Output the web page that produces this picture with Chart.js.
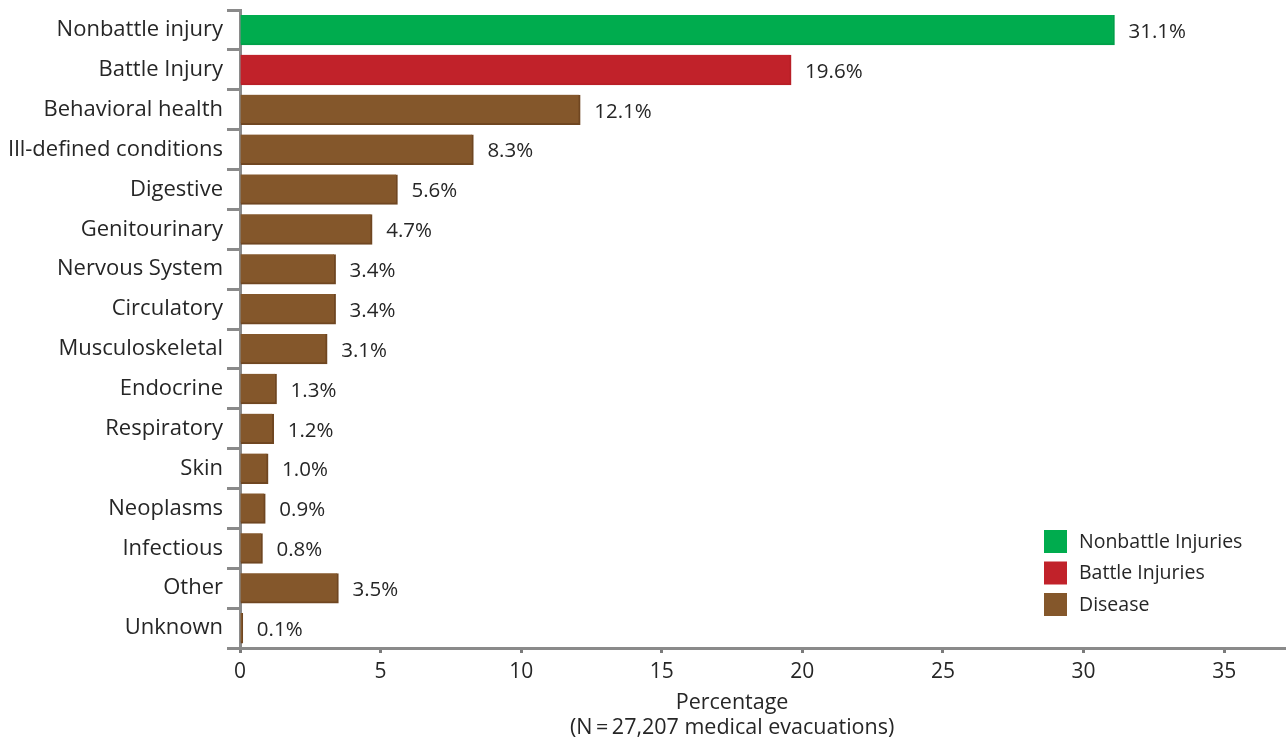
<!DOCTYPE html>
<html>
<head>
<meta charset="utf-8">
<title>Medical evacuations by cause</title>
<script src="https://cdn.jsdelivr.net/npm/chart.js@4.4.1/dist/chart.umd.min.js"></script>
<style>
  html, body { margin: 0; padding: 0; background: #ffffff; }
  #wrap { width: 1286px; height: 744px; position: relative; }
</style>
</head>
<body>
<div id="wrap"><canvas id="chart" width="1286" height="744"></canvas></div>
<script>
// Causes of medical evacuation, top to bottom
const categories = [
  'Nonbattle injury', 'Battle Injury', 'Behavioral health', 'Ill-defined conditions',
  'Digestive', 'Genitourinary', 'Nervous System', 'Circulatory', 'Musculoskeletal',
  'Endocrine', 'Respiratory', 'Skin', 'Neoplasms', 'Infectious', 'Other', 'Unknown'
];
// Share of all evacuations, percent
const percentages = [31.1, 19.6, 12.1, 8.3, 5.6, 4.7, 3.4, 3.4, 3.1, 1.3, 1.2, 1.0, 0.9, 0.8, 3.5, 0.1];
// Group each cause belongs to (index into groupNames)
const groupOfCategory = [0, 1, 2, 2, 2, 2, 2, 2, 2, 2, 2, 2, 2, 2, 2, 2];
const groupNames = ['Nonbattle Injuries', 'Battle Injuries', 'Disease'];
const groupFill = ['#00ac4e', '#c1222a', '#84572b'];
const groupEdge = ['#00a049', '#b81f27', '#6f4621'];
const xTicks = [0, 5, 10, 15, 20, 25, 30, 35];
const xTitleLines = ['Percentage', '(N\u2009=\u200927,207 medical evacuations)'];

const FONT = '"Open Sans", Roboto, "Liberation Sans", Arial, sans-serif';
const TEXT = '#262626';

const valueLabels = {
  id: 'valueLabels',
  afterDatasetsDraw(chart) {
    const ctx = chart.ctx;
    const meta = chart.getDatasetMeta(0);
    ctx.save();
    ctx.font = '20.5px ' + FONT;
    ctx.fillStyle = TEXT;
    ctx.textAlign = 'left';
    ctx.textBaseline = 'middle';
    meta.data.forEach((bar, i) => {
      ctx.fillText(percentages[i].toFixed(1) + '%', bar.x + 14, bar.y + 2);
    });
    ctx.restore();
  }
};

const axisTitleAndLegend = {
  id: 'axisTitleAndLegend',
  afterDraw(chart) {
    const ctx = chart.ctx;
    const xs = chart.scales.x;
    ctx.save();
    // x axis title, centred under the 0-35 tick range
    const cx = (xs.getPixelForValue(0) + xs.getPixelForValue(35)) / 2;
    ctx.font = '21.5px ' + FONT;
    ctx.fillStyle = TEXT;
    ctx.textAlign = 'center';
    ctx.textBaseline = 'middle';
    ctx.fillText(xTitleLines[0], cx, 703);
    ctx.fillText(xTitleLines[1], cx, 728);
    // legend
    ctx.font = '19.5px ' + FONT;
    ctx.textAlign = 'left';
    groupNames.forEach((name, g) => {
      const y = 541 + g * 31.5;
      ctx.fillStyle = groupFill[g];
      ctx.fillRect(1044, y - 11, 23, 23);
      ctx.fillStyle = TEXT;
      ctx.fillText(name, 1079, y + 1);
    });
    ctx.restore();
  }
};

new Chart(document.getElementById('chart'), {
  type: 'bar',
  data: {
    labels: categories,
    datasets: [{
      data: percentages,
      backgroundColor: groupOfCategory.map(g => groupFill[g]),
      borderColor: groupOfCategory.map(g => groupEdge[g]),
      borderWidth: { top: 0, left: 0, right: 2, bottom: 2 },
      borderSkipped: false,
      barThickness: 30
    }]
  },
  options: {
    indexAxis: 'y',
    responsive: false,
    animation: false,
    devicePixelRatio: 1,
    layout: { padding: { top: 10, right: 0, left: 0, bottom: 0 } },
    plugins: {
      legend: { display: false },
      tooltip: { enabled: false }
    },
    scales: {
      x: {
        type: 'linear',
        min: 0,
        max: 37.2,
        afterBuildTicks(scale) { scale.ticks = xTicks.map(v => ({ value: v })); },
        afterFit(scale) { scale.height = 96; },
        ticks: {
          font: { size: 21, family: FONT },
          color: TEXT,
          padding: 6,
          maxRotation: 0
        },
        grid: {
          drawOnChartArea: false,
          drawTicks: true,
          tickLength: 5,
          tickWidth: 3,
          color: '#7a7a7a'
        },
        border: { display: true, color: '#8a8a8a', width: 3 }
      },
      y: {
        afterFit(scale) {
          scale.width = 240;
          scale.paddingTop = 0;
          scale.paddingBottom = 0;
        },
        ticks: {
          font: { size: 22, family: FONT },
          color: TEXT,
          padding: 4
        },
        grid: {
          offset: true,
          drawOnChartArea: false,
          drawTicks: true,
          tickLength: 13,
          tickWidth: 3,
          color: '#8a8a8a'
        },
        border: { display: true, color: '#8a8a8a', width: 3 }
      }
    }
  },
  plugins: [valueLabels, axisTitleAndLegend]
});
</script>
</body>
</html>
